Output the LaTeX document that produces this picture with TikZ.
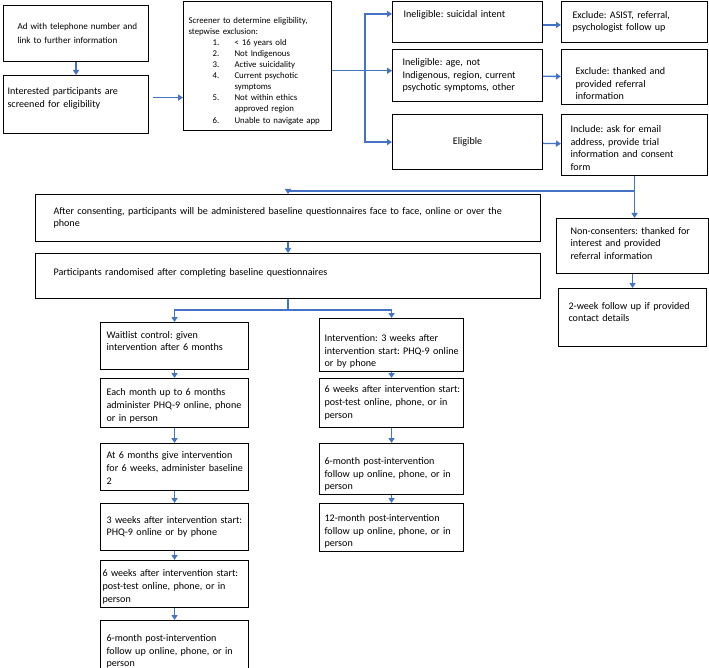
\documentclass[tikz,border=0pt]{standalone}
\usepackage{fontspec}
\setmainfont{Carlito}
\usetikzlibrary{arrows.meta}
\definecolor{flowblue}{RGB}{68,114,196}
\frenchspacing
\newcommand{\boxlines}[1]{\begin{tabular}{@{}l@{}}#1\end{tabular}}
\newcommand{\liftby}[1]{\rule[-#1]{0pt}{#1}}
\newcommand{\dropby}[1]{\rule{0pt}{#1}}
\newcommand{\scritem}[2]{\hspace*{24pt}\makebox[22pt][l]{#1}#2}
\newcommand{\scrmore}[1]{\hspace*{46pt}#1}

\begin{document}
\begin{tikzpicture}[x    = 1pt,
                    y    = -1pt,
                    font = \fontsize{10.1}{12.7}\selectfont]
% style of boxes and links
\tikzset{boxstyle/.style={draw,line width=1.1pt,anchor=north west,align=left,inner ysep=1pt},
         linkstyle/.style={draw=flowblue,line width=1.3pt},
         arrowstyle/.style={linkstyle,-{Triangle[width=6pt,length=5pt]}}}
\useasboundingbox (0,0) rectangle (709,668);
% screening
\node[boxstyle,font=\fontsize{9.1}{14}\selectfont,minimum width=145pt,minimum height=56pt,
      inner xsep=14pt,text width=117pt] (ad) at (3,5)
  {\boxlines{Ad with telephone number and\\link to further information}};
\node[boxstyle,minimum width=145pt,minimum height=58pt,inner xsep=4pt,text width=137pt] (intr) at (3,75)
  {\boxlines{Interested participants are\\screened for eligibility\liftby{16pt}}};
\node[boxstyle,font=\fontsize{8.8}{11.1}\selectfont,minimum width=148pt,minimum height=129pt,
      inner xsep=5pt,text width=138pt] (scr) at (183,0.7)
  {\boxlines{\dropby{18pt}Screener to determine eligibility,\\stepwise exclusion:\\
   \scritem{1.}{< 16 years old}\\
   \scritem{2.}{Not Indigenous}\\
   \scritem{3.}{Active suicidality}\\
   \scritem{4.}{Current psychotic}\\
   \scrmore{symptoms}\\
   \scritem{5.}{Not within ethics}\\
   \scrmore{approved region}\\
   \scritem{6.}{Unable to navigate app}}};
% eligibility
\node[boxstyle,minimum width=150pt,minimum height=41.3pt,inner xsep=11pt,text width=128pt] (ins) at (392,0.7)
  {\boxlines{Ineligible: suicidal intent\liftby{18pt}}};
\node[boxstyle,minimum width=150pt,minimum height=52pt,inner xsep=10pt,text width=130pt] (ina) at (392,49)
  {\boxlines{Ineligible: age, not\\Indigenous, region, current\\psychotic symptoms, other}};
\node[boxstyle,align=center,minimum width=150pt,minimum height=55pt,inner xsep=10pt,text width=130pt] (eli) at (392,114)
  {Eligible};
\node[boxstyle,minimum width=146pt,minimum height=41.3pt,inner xsep=11pt,text width=124pt] (exa) at (561,0.7)
  {\boxlines{Exclude: ASIST, referral,\\psychologist follow up}};
\node[boxstyle,minimum width=146pt,minimum height=52pt,inner xsep=14pt,text width=118pt] (ext) at (561,49)
  {\boxlines{\dropby{24pt}Exclude: thanked and\\provided referral\\information}};
\node[boxstyle,minimum width=146pt,minimum height=55pt,inner xsep=9pt,text width=128pt] (inc) at (561,114)
  {\boxlines{\dropby{17pt}Include: ask for email\\address, provide trial\\information and consent\\form}};
% consent and randomisation
\node[boxstyle,minimum width=505pt,minimum height=47pt,inner xsep=18pt,text width=469pt] (cons) at (35,194)
  {\boxlines{After consenting, participants will be administered baseline questionnaires face to face, online or over the\\phone}};
\node[boxstyle,minimum width=505pt,minimum height=45pt,inner xsep=18pt,text width=469pt] (rand) at (35,253)
  {\boxlines{Participants randomised after completing baseline questionnaires\liftby{9pt}}};
\node[boxstyle,minimum width=152pt,minimum height=55pt,inner xsep=14pt,text width=124pt] (non) at (556,218)
  {\boxlines{Non-consenters: thanked for\\interest and provided\\referral information\liftby{7pt}}};
\node[boxstyle,minimum width=148pt,minimum height=58pt,inner xsep=10pt,text width=128pt] (two) at (558,288)
  {\boxlines{2-week follow up if provided\\contact details\liftby{13pt}}};
% waitlist arm
\node[boxstyle,minimum width=148pt,minimum height=47pt,inner xsep=6pt,text width=136pt] (wl1) at (100,322)
  {\boxlines{Waitlist control: given\\intervention after 6 months\liftby{12pt}}};
\node[boxstyle,minimum width=148pt,minimum height=49pt,inner xsep=6pt,text width=136pt] (wl2) at (100,378)
  {\boxlines{\dropby{15pt}Each month up to 6 months\\administer PHQ-9 online, phone\\or in person}};
\node[boxstyle,minimum width=148pt,minimum height=47pt,inner xsep=6pt,text width=136pt] (wl3) at (100,443)
  {\boxlines{\dropby{13pt}At 6 months give intervention\\for 6 weeks, administer baseline\\2}};
\node[boxstyle,minimum width=148pt,minimum height=47pt,inner xsep=6pt,text width=136pt] (wl4) at (100,503)
  {\boxlines{3 weeks after intervention start:\\PHQ-9 online or by phone}};
\node[boxstyle,minimum width=148pt,minimum height=47pt,inner xsep=2pt,text width=144pt] (wl5) at (100,560)
  {\boxlines{\dropby{15pt}6 weeks after intervention start:\\post-test online, phone, or in\\person}};
\node[boxstyle,minimum width=148pt,minimum height=47pt,inner xsep=6pt,text width=136pt] (wl6) at (100,620)
  {\boxlines{\dropby{20pt}6-month post-intervention\\follow up online, phone, or in\\person}};
% intervention arm
\node[boxstyle,minimum width=144pt,minimum height=48pt,inner xsep=5pt,text width=134pt] (iv1) at (319,318)
  {\boxlines{\dropby{22pt}Intervention: 3 weeks after\\intervention start: PHQ-9 online\\or by phone}};
\node[boxstyle,minimum width=144pt,minimum height=49pt,inner xsep=5pt,text width=134pt] (iv2) at (319,378)
  {\boxlines{6 weeks after intervention start:\\post-test online, phone, or in\\person}};
\node[boxstyle,minimum width=144pt,minimum height=47pt,inner xsep=5pt,text width=134pt] (iv3) at (319,443)
  {\boxlines{\dropby{20pt}6-month post-intervention\\follow up online, phone, or in\\person}};
\node[boxstyle,minimum width=144pt,minimum height=44pt,inner xsep=5pt,text width=134pt] (iv4) at (319,503)
  {\boxlines{\dropby{17pt}12-month post-intervention\\follow up online, phone, or in\\person}};
% links: screening
\coordinate (ia) at ([shift={(4,-7)}]intr.east);
\draw[arrowstyle] (ad) -- (intr);
\draw[arrowstyle] (ia) -- (ia -| scr.west);
% links: fork after the screener
\coordinate (fork) at ([shift={(33,5)}]scr.east);
\draw[linkstyle] (fork -| scr.east) -- (fork);
\draw[arrowstyle] (fork) -- (fork -| ina.west);
\draw[arrowstyle] (fork) |- ([shift={(0,-8)}]ins.west);
\draw[arrowstyle] (fork) |- (eli.west);
\draw[arrowstyle] ([shift={(0,3)}]ins.east) -- ([shift={(0,3)}]exa.west);
\draw[arrowstyle] (ina) -- (ext);
\draw[arrowstyle] (eli) -- (inc);
% links: consent
\coordinate (consent) at ([shift={(0,15)}]inc.south);
\draw[linkstyle] (inc) -- (consent);
\draw[arrowstyle] (consent) -| (cons.north);
\draw[arrowstyle] (consent) -- (consent |- non.north);
\draw[arrowstyle] (cons) -- (rand);
\draw[arrowstyle] (non) -- (two);
% links: randomisation
\coordinate (split) at ([shift={(0,11)}]rand.south);
\draw[linkstyle] (rand) -- (split);
\draw[arrowstyle] (split) -| (wl1.north);
\draw[arrowstyle] (split) -| (iv1.north);
% links: arms
\draw[arrowstyle] (wl1) -- (wl2);
\draw[arrowstyle] (wl2) -- (wl3);
\draw[arrowstyle] (wl3) -- (wl4);
\draw[arrowstyle] (wl4) -- (wl5);
\draw[arrowstyle] (wl5) -- (wl6);
\draw[arrowstyle] (iv1) -- (iv2);
\draw[arrowstyle] (iv2) -- (iv3);
\draw[arrowstyle] (iv3) -- (iv4);
\end{tikzpicture}
\end{document}
